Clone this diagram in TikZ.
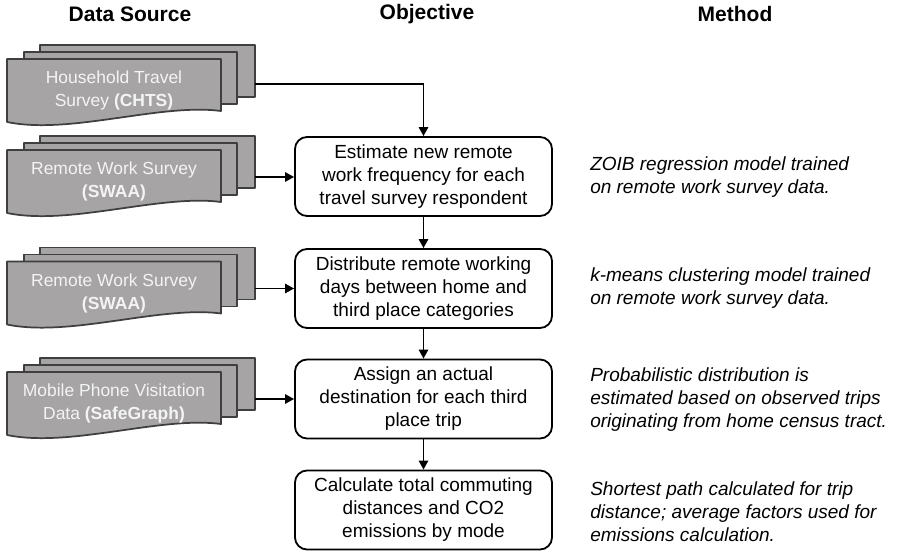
\documentclass[tikz,border=0pt]{standalone}
\usepackage{fontspec}
\setmainfont{Liberation Sans}
\usetikzlibrary{arrows.meta}
\definecolor{docfill}{HTML}{A6A4A4}
\definecolor{docline}{HTML}{3F3F3F}
\definecolor{doctext}{HTML}{F4F4F4}
\tikzset{
  sheet/.style={draw=docline, fill=docfill, line width=1.3pt, line join=round},
  doctxt/.style={align=center, text=doctext, inner sep=0pt, font=\fontsize{13.1}{17.25}\selectfont},
  objbox/.style={draw=black, line width=1.35pt, rounded corners=9pt, minimum width=192.75pt, minimum height=59.25pt, align=center, inner sep=0pt, font=\fontsize{14.25}{17.25}\selectfont},
  method/.style={anchor=west, align=left, inner sep=0pt, font=\fontsize{14.25}{17.25}\selectfont\itshape},
  hdr/.style={inner sep=0pt, font=\fontsize{15.75}{18}\selectfont\bfseries},
  arr/.style={-{Triangle[length=6.75pt,width=7pt]}, line width=1.35pt},
}
\newcommand{\multidoc}[3]{%
  \draw[sheet] (40,#2) rectangle (255,#2+52);
  \draw[sheet] (24,#2+7) rectangle (237,#2+59);
  \draw[sheet] (7,#2+14) -- (221,#2+14) -- (221,#2+66) .. controls (160,#2+58) and (70,#2+90) .. (7,#2+77) -- cycle;
  \node[doctxt] (#1) at (114,#2+45.5) {#3};
  \coordinate (#1out) at (255,#2+41);
}
\begin{document}
\begin{tikzpicture}[x=0.75pt, y=-0.75pt]
  \useasboundingbox[fill=white] (0,0) rectangle (897,552);
  % headers
  \node[hdr] (h1) at (130,14) {Data Source};
  \node[hdr] (h2) at (427,14) {Objective};
  \node[hdr] (h3) at (735,14) {Method};
  % documents
  \multidoc{d1}{45}{Household Travel\\Survey \textbf{(CHTS)}}
  \coordinate (d1out) at (255,84);
  \multidoc{d2}{136}{Remote Work Survey\\\textbf{(SWAA)}}
  \multidoc{d3}{247.5}{Remote Work Survey\\\textbf{(SWAA)}}
  \multidoc{d4}{358}{Mobile Phone Visitation\\Data \textbf{(SafeGraph)}}
  % objective boxes
  \node[objbox] (b1) at (423.5,176.5) {Estimate new remote\\work frequency for each\\travel survey respondent};
  \node[objbox] (b2) at (423.5,288.5) {Distribute remote working\\days between home and\\third place categories};
  \node[objbox] (b3) at (423.5,399) {Assign an actual\\destination for each third\\place trip};
  \node[objbox] (b4) at (423.5,510) {Calculate total commuting\\distances and CO2\\emissions by mode};
  % methods
  \node[method] (m1) at (590,177) {ZOIB regression model trained\\on remote work survey data.};
  \node[method] (m2) at (590,288.5) {k-means clustering model trained\\on remote work survey data.};
  \node[method] (m3) at (590,399.5) {Probabilistic distribution is\\estimated based on observed trips\\originating from home census tract.};
  \node[method] (m4) at (590,512) {Shortest path calculated for trip\\distance; average factors used for\\emissions calculation.};
  % connectors
  \draw[arr] (d1out) -| (b1.north);
  \draw[arr] (d2out) -- (d2out -| b1.west);
  \draw[arr] (d3out) -- (d3out -| b2.west);
  \draw[arr] (d4out) -- (d4out -| b3.west);
  \draw[arr] (b1) -- (b2);
  \draw[arr] (b2) -- (b3);
  \draw[arr] (b3) -- (b4);
\end{tikzpicture}
\end{document}
